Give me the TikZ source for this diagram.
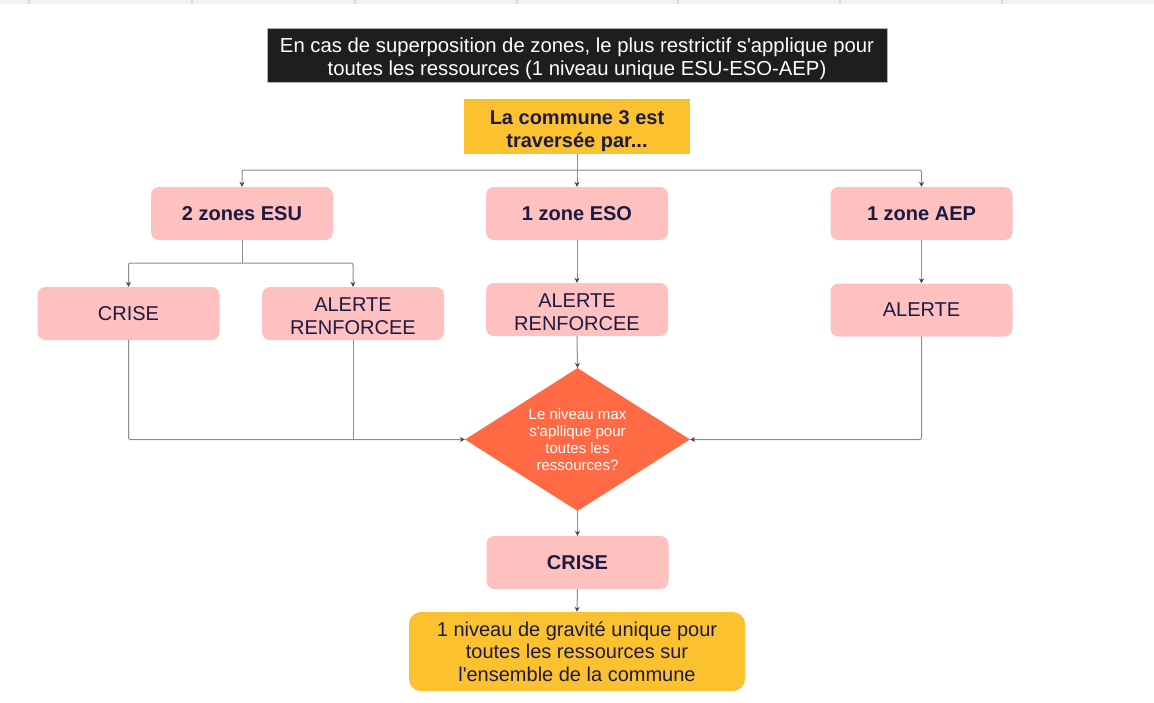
\documentclass[tikz,border=0pt]{standalone}
\usepackage{fontspec}
\setmainfont{Liberation Sans}
\usetikzlibrary{shapes.geometric,arrows.meta}
\definecolor{navy}{RGB}{28,26,66}
\definecolor{pinkbox}{RGB}{255,192,192}
\definecolor{goldbox}{RGB}{251,193,46}
\definecolor{orangedia}{RGB}{255,106,69}
\definecolor{blackbox}{RGB}{30,30,30}
\definecolor{linegray}{RGB}{140,140,140}
\definecolor{tipgray}{RGB}{70,70,70}
\definecolor{stripgray}{RGB}{241,241,241}
\definecolor{sepgray}{RGB}{218,218,218}
\tikzset{
  every node/.style={font=\fontsize{20}{23}\selectfont, align=center, inner sep=0pt},
  pinkb/.style={rectangle, rounded corners=8pt, fill=pinkbox, text=navy, minimum width=182pt, minimum height=53pt},
  conn/.style={draw=linegray, line width=1pt, rounded corners=2pt},
  arr/.style={conn, -{Stealth[length=5pt,width=5pt,color=tipgray]}},
}
\begin{document}
\begin{tikzpicture}[x=1pt,y=-1pt]
\useasboundingbox (0,0) rectangle (1154,702);
\fill[white] (0,0) rectangle (1154,702);
% top strip
\fill[stripgray] (0,0) rectangle (1154,4);
\foreach \sx in {29,192,355,517,678,840,1002}{
  \draw[sepgray, line width=1.2pt] (\sx,0) -- (\sx,4);
}
% nodes
\node[rectangle, fill=blackbox, draw=gray!60, line width=0.6pt, text=white, font=\fontsize{20.3}{23}\selectfont, minimum width=620pt, minimum height=54pt] (title) at (577,55)
  {\rule{0pt}{23pt}En cas de superposition de zones, le plus restrictif s\textquotesingle applique pour\\toutes les ressources (1 niveau unique ESU-ESO-AEP)};
\node[rectangle, fill=goldbox, text=navy, font=\bfseries\fontsize{20}{23}\selectfont, minimum width=226pt, minimum height=55pt] (top) at (577,126.5)
  {\rule{0pt}{23pt}La commune 3 est\\traversée par...};
\node[pinkb, font=\bfseries\fontsize{20}{23}\selectfont] (esu) at (242,213.5) {2 zones ESU};
\node[pinkb, font=\bfseries\fontsize{20}{23}\selectfont] (eso) at (577,213.5) {1 zone ESO};
\node[pinkb, font=\bfseries\fontsize{20}{23}\selectfont] (aep) at (921.5,213.5) {1 zone AEP};
\node[pinkb] (crise1) at (128.5,313.5) {CRISE};
\node[pinkb] (ar1) at (353,313.5) {\rule{0pt}{19pt}ALERTE\\RENFORCEE};
\node[pinkb] (ar2) at (577,309.5) {\rule{0pt}{19pt}ALERTE\\RENFORCEE};
\node[pinkb] (al3) at (921.5,310) {ALERTE};
\node[diamond, aspect=1.57, fill=orangedia, text=white, font=\fontsize{15}{17}\selectfont, minimum width=225pt, minimum height=143pt] (dia) at (577.5,439.5)
  {Le niveau max\\s\textquotesingle apllique pour\\toutes les\\ressources?};
\node[pinkb, font=\bfseries\fontsize{20}{23}\selectfont] (crise2) at (577.5,562.5) {CRISE};
\node[rectangle, rounded corners=12pt, fill=goldbox, text=navy, font=\fontsize{20}{22.5}\selectfont, minimum width=336pt, minimum height=79pt] (final) at (577,651.5)
  {1 niveau de gravité unique pour\\toutes les ressources sur\\l\textquotesingle ensemble de la commune};
% connectors
\coordinate (hb) at (577,170);
\draw[conn] (top.south) -- (hb);
\draw[arr] (hb) -| (esu.north);
\draw[arr] (hb) -- (eso.north);
\draw[arr] (hb) -| (aep.north);
\coordinate (hb2) at (242,263);
\draw[conn] (esu.south) -- (hb2);
\draw[arr] (hb2) -| (crise1.north);
\draw[arr] (hb2) -| (ar1.north);
\draw[arr] (eso.south) -- (ar2.north);
\draw[arr] (aep.south) -- (al3.north);
\draw[arr] (crise1.south) |- (dia.west);
\draw[conn] (ar1.south) -- (ar1.south |- dia.west);
\draw[arr] (ar2.south) -- (dia.north);
\draw[arr] (al3.south) |- (dia.east);
\draw[arr] (dia.south) -- (crise2.north);
\draw[arr] (crise2.south) -- (final.north);
\end{tikzpicture}
\end{document}
